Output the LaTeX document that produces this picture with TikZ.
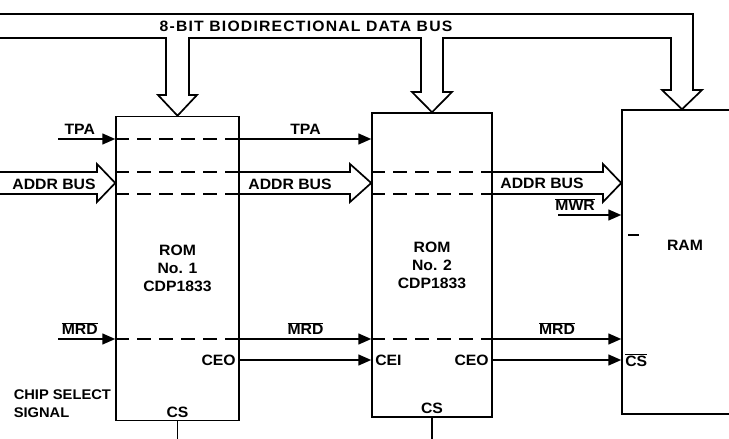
\documentclass[tikz,border=0pt]{standalone}
\usepackage{fontspec}
\setmainfont{Liberation Sans}[FakeStretch=1.05]
\newfontfamily\busfont{Liberation Sans}[FakeStretch=1.05,LetterSpace=8]
\usetikzlibrary{arrows.meta}
\newcommand{\ovl}[1]{$\overline{\mbox{#1}}$}

\begin{document}
\begin{tikzpicture}[x=1pt,y=-1pt,line width=1.5pt,
 every node/.style={font=\fontsize{15}{18}\selectfont\bfseries},
 chip/.style={draw,align=center,inner sep=0pt,minimum height=304pt},
 sig/.style={-{Triangle[length=13pt,width=11pt]}},
 thru/.style={dash pattern=on 14pt off 8pt,line width=1.3pt},
 bus/.style={line width=1.7pt,line join=miter}]
\useasboundingbox (0,0) rectangle (729,439);
% chips
\node[chip,minimum width=123pt] (rom1) at (177.5,268.5) {ROM\\No. 1\\CDP1833};
\node[chip,minimum width=120pt] (rom2) at (432,265) {ROM\\No. 2\\CDP1833};
\node[chip,minimum width=120pt] (ram) at (682,262) {};
\node (ramlbl) at (685,245) {RAM};
\draw (628,235) -- (639,235);
% levels
\coordinate (tpain) at (58,139);
\coordinate (addr) at (0,183);
\coordinate (a1) at (0,172);
\coordinate (a2) at (0,194);
\coordinate (mwrin) at (558,215);
\coordinate (mrdin) at (58,339);
\coordinate (ce) at (0,360);
\coordinate (floor) at (0,439);
% data bus
\draw[bus] (0,14) -- (693,14) -- (693,90) -- (702,90) -- (ram.north) -- (662,90) -- (671,90)
 -- (671,38) -- (443,38) -- (443,92) -- (452,92) -- (rom2.north) -- (412,92) -- (421,92)
 -- (421,38) -- (189,38) -- (189,95) -- (197,95) -- (rom1.north) -- (158,95) -- (166,95)
 -- (166,38) -- (0,38);
\node[font=\fontsize{15}{16}\selectfont\busfont\bfseries] (bustitle) at (306,26) {8-BIT BIODIRECTIONAL DATA BUS};
% TPA
\draw[sig] (tpain) -- (rom1.west |- tpain) node[pos=.38,above] {TPA};
\draw[thru] (rom1.west |- tpain) -- (rom1.east |- tpain);
\draw[sig] (rom1.east |- tpain) -- (rom2.west |- tpain) node[midway,above] {TPA};
% address bus
\draw[bus] (0,172) -- (97,172) -- (97,164) -- (rom1.west |- addr) -- (97,202) -- (97,194) -- (0,194);
\node (addrl) at (54,184) {ADDR BUS};
\draw[thru] (rom1.west |- a1) -- (rom1.east |- a1);
\draw[thru] (rom1.west |- a2) -- (rom1.east |- a2);
\draw[bus] (rom1.east |- a1) -- (350,172) -- (350,164) -- (rom2.west |- addr) -- (350,202) -- (350,194) -- (rom1.east |- a2);
\node (addrm) at (290,184) {ADDR BUS};
\draw[thru] (rom2.west |- a1) -- (rom2.east |- a1);
\draw[thru] (rom2.west |- a2) -- (rom2.east |- a2);
\draw[bus] (rom2.east |- a1) -- (603,172) -- (603,164) -- (ram.west |- addr) -- (603,202) -- (603,194) -- (rom2.east |- a2);
\node (addrr) at (542,183) {ADDR BUS};
% MWR
\draw[sig] (mwrin) -- (ram.west |- mwrin) node[pos=.27,above] {\ovl{MWR}};
% MRD
\draw[sig] (mrdin) -- (rom1.west |- mrdin) node[pos=.38,above] {\ovl{MRD}};
\draw[thru] (rom1.west |- mrdin) -- (rom1.east |- mrdin);
\draw[sig] (rom1.east |- mrdin) -- (rom2.west |- mrdin) node[midway,above] {\ovl{MRD}};
\draw[thru] (rom2.west |- mrdin) -- (rom2.east |- mrdin);
\draw[sig] (rom2.east |- mrdin) -- (ram.west |- mrdin) node[midway,above] {\ovl{MRD}};
% chip enables
\node[anchor=east] (ceo1) at (rom1.east |- ce) {CEO};
\node[anchor=west] (cei) at (rom2.west |- ce) {CEI};
\draw[sig] (ceo1.east) -- (cei.west);
\node[anchor=east] (ceo2) at (rom2.east |- ce) {CEO};
\node[anchor=west] (csram) at (ram.west |- ce) {\ovl{CS}};
\draw[sig] (ceo2.east) -- (csram.west);
% chip select
\node[anchor=south] (cs1) at (rom1.south) {CS};
\node[anchor=south] (cs2) at (rom2.south) {CS};
\draw (rom1.south) -- (rom1.south |- floor);
\draw (rom2.south) -- (rom2.south |- floor);
\node[align=left,anchor=base west,inner sep=2pt,font=\fontsize{14}{18}\selectfont\bfseries] (chipsel) at (11,417) {CHIP SELECT\\SIGNAL};
\end{tikzpicture}
\end{document}
